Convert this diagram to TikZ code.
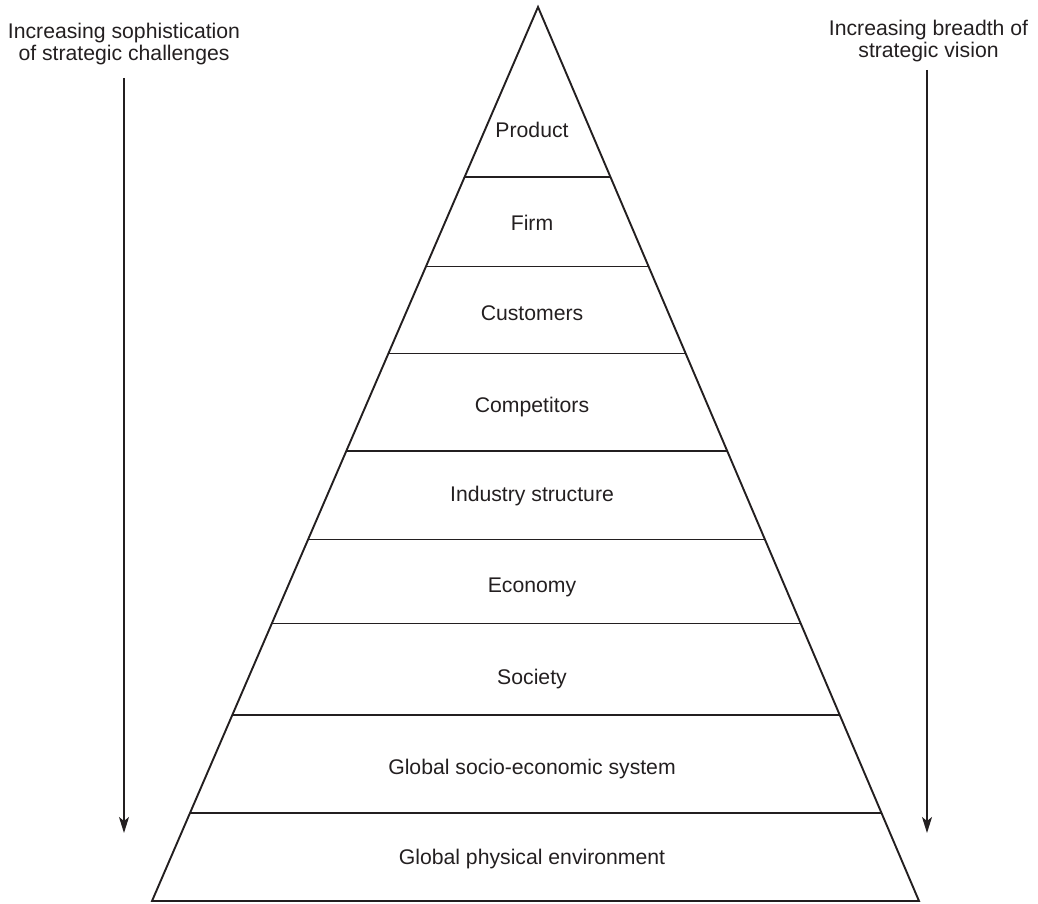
\documentclass[tikz,border=0pt]{standalone}
\usepackage{fontspec}
\setmainfont{Liberation Sans}
\usetikzlibrary{arrows.meta,calc}
\definecolor{ink}{HTML}{231F20}
\begin{document}
\begin{tikzpicture}[x=1pt,y=-1pt,
  lbl/.style={font=\fontsize{21.2}{22.3}\selectfont, text=ink, inner sep=0pt, anchor=base},
  hdr/.style={font=\fontsize{21.2}{22.3}\selectfont, text=ink, inner sep=0pt, anchor=north, align=center},
  edge/.style={draw=ink, line width=1.9pt, line join=miter},
  tier/.style={draw=ink, line width=1.1pt},
  dirarrow/.style={draw=ink, line width=1.4pt, -{Stealth[length=16pt,width=10pt,inset=4pt]}}]
\useasboundingbox (0,0) rectangle (1038,904);
% pyramid corners
\coordinate (A) at (538,7);
\coordinate (BL) at (152,901);
\coordinate (BR) at (919,901);
\draw[edge] (A) -- (BL) -- (BR) -- cycle;
% tier lines
\foreach \y [count=\i] in {177,266.5,353.5,451,539.5,623.5,715,813} {
  \coordinate (L\i) at ($(A)!{(\y-7)/894}!(BL)$);
  \coordinate (R\i) at ($(A)!{(\y-7)/894}!(BR)$);
  \draw[tier] (L\i) -- (R\i);
}
% labels
\node[lbl] (product) at (532,138) {Product};
\node[lbl] (firm) at (532,230.5) {Firm};
\node[lbl] (customers) at (532,320.5) {Customers};
\node[lbl] (competitors) at (532,412.5) {Competitors};
\node[lbl] (industry) at (532,501) {Industry structure};
\node[lbl] (economy) at (532,592.5) {Economy};
\node[lbl] (society) at (532,684.5) {Society};
\node[lbl] (socio) at (532,774) {Global socio-economic system};
\node[lbl] (physical) at (532,864.5) {Global physical environment};
% headers
\node[hdr] (lefthdr) at (124,22.5) {Increasing sophistication\\of strategic challenges};
\node[hdr] (righthdr) at (928.5,20) {Increasing breadth of\\strategic vision};
% arrows
\coordinate (la0) at (124,78);
\coordinate (la1) at (124,833);
\coordinate (ra0) at (927,70);
\coordinate (ra1) at (927,833);
\draw[dirarrow] (la0) -- (la1);
\draw[dirarrow] (ra0) -- (ra1);
\end{tikzpicture}
\end{document}
